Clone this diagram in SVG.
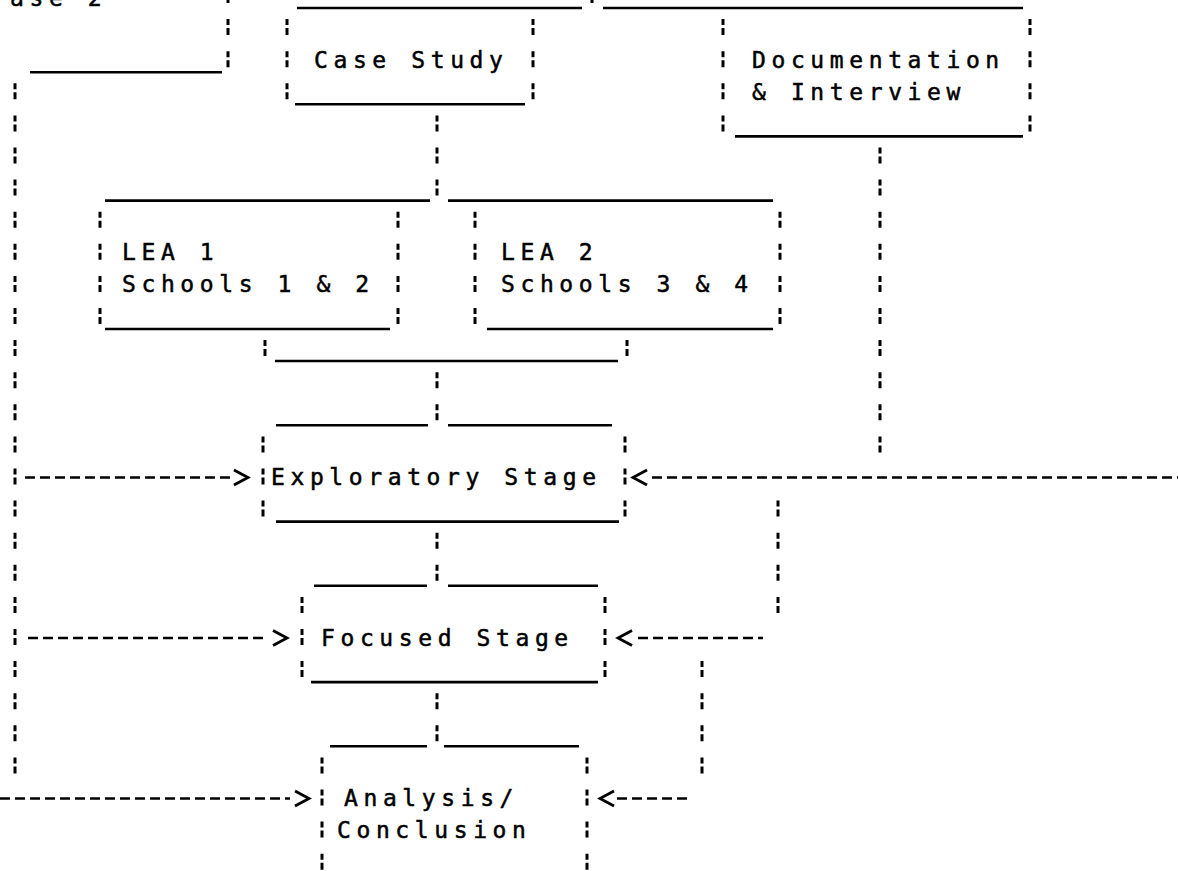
<svg xmlns="http://www.w3.org/2000/svg" xmlns:xlink="http://www.w3.org/1999/xlink" width="1178" height="871" viewBox="0 0 1178 871">
<style>
.bar{stroke:#000;stroke-width:3;stroke-dasharray:6 3 7 16.1;fill:none}
.us{stroke:#000;stroke-width:2.6;fill:none}
.dash{stroke:#000;stroke-width:2.6;stroke-dasharray:10 5;fill:none}
.chev{fill:none;stroke:#000;stroke-width:2.8;stroke-linejoin:miter}
text{font-family:"DejaVu Sans Mono","Liberation Mono",monospace;font-size:23px;letter-spacing:5.6px;fill:#000;stroke:#000;stroke-width:0.5}
</style>
<defs>
<path id="chevR" class="chev" d="M-14,-7.5 L0,0 L-14,7.5"/>
<path id="chevL" class="chev" d="M14,-7.5 L0,0 L14,7.5"/>
</defs>
<rect width="1178" height="871" fill="#fff"/>

<g id="phase2">
<text x="10" y="6">ase 2</text>
<line class="bar" x1="228" y1="-13" x2="228" y2="67.2"/>
<line class="us" x1="30" y1="72.2" x2="222" y2="72.2"/>
</g>

<g id="case-study">
<line class="bar" x1="287" y1="19.1" x2="287" y2="99.3"/>
<line class="bar" x1="533" y1="19.1" x2="533" y2="99.3"/>
<line class="us" x1="295" y1="104.3" x2="525" y2="104.3"/>
<text x="314" y="67.7">Case Study</text>
</g>

<g id="documentation">
<line class="bar" x1="723" y1="19.1" x2="723" y2="131.4"/>
<line class="bar" x1="1030" y1="19.1" x2="1030" y2="131.4"/>
<line class="us" x1="735" y1="136.4" x2="1023" y2="136.4"/>
<text x="752" y="67.7">Documentation</text>
<text x="752" y="99.8">&amp; Interview</text>
</g>

<g id="lea1">
<line class="bar" x1="100" y1="211.7" x2="100" y2="324"/>
<line class="bar" x1="398" y1="211.7" x2="398" y2="324"/>
<line class="us" x1="105" y1="329" x2="390" y2="329"/>
<text x="122" y="260.3">LEA 1</text>
<text x="122" y="292.4">Schools 1 &amp; 2</text>
</g>

<g id="lea2">
<line class="bar" x1="475" y1="211.7" x2="475" y2="324"/>
<line class="bar" x1="780" y1="211.7" x2="780" y2="324"/>
<line class="us" x1="487" y1="329" x2="773" y2="329"/>
<text x="501" y="260.3">LEA 2</text>
<text x="501" y="292.4">Schools 3 &amp; 4</text>
</g>

<g id="exploratory">
<line class="bar" x1="263" y1="436.4" x2="263" y2="516.6"/>
<line class="bar" x1="625" y1="436.4" x2="625" y2="516.6"/>
<line class="us" x1="276" y1="521.6" x2="619" y2="521.6"/>
<text x="271" y="485">Exploratory Stage</text>
</g>

<g id="focused">
<line class="bar" x1="302" y1="596.9" x2="302" y2="677.1"/>
<line class="bar" x1="605" y1="596.9" x2="605" y2="677.1"/>
<line class="us" x1="311" y1="682.1" x2="598" y2="682.1"/>
<text x="321" y="645.5">Focused Stage</text>
</g>

<g id="analysis">
<line class="bar" x1="322" y1="757.4" x2="322" y2="869.7"/>
<line class="bar" x1="587" y1="757.4" x2="587" y2="869.7"/>
<text x="344" y="806">Analysis/</text>
<text x="337" y="838">Conclusion</text>
</g>

<g id="connectors">
<line class="bar" x1="592" y1="-13" x2="592" y2="3"/>
<line class="us" x1="297" y1="8" x2="582" y2="8"/>
<line class="us" x1="603" y1="8" x2="1023" y2="8"/>
<line class="bar" x1="437" y1="115.4" x2="437" y2="195.6"/>
<line class="us" x1="105" y1="200.6" x2="430" y2="200.6"/>
<line class="us" x1="448" y1="200.6" x2="773" y2="200.6"/>
<line class="bar" x1="265" y1="340.1" x2="265" y2="356.1"/>
<line class="bar" x1="627" y1="340.1" x2="627" y2="356.1"/>
<line class="us" x1="275" y1="361" x2="618" y2="361"/>
<line class="bar" x1="437" y1="372.2" x2="437" y2="420.3"/>
<line class="us" x1="276" y1="425.3" x2="428" y2="425.3"/>
<line class="us" x1="448" y1="425.3" x2="612" y2="425.3"/>
<line class="bar" x1="437" y1="532.7" x2="437" y2="580.8"/>
<line class="us" x1="314" y1="585.8" x2="427" y2="585.8"/>
<line class="us" x1="448" y1="585.8" x2="598" y2="585.8"/>
<line class="bar" x1="437" y1="693.2" x2="437" y2="741.3"/>
<line class="us" x1="330" y1="746.3" x2="427" y2="746.3"/>
<line class="us" x1="444" y1="746.3" x2="579" y2="746.3"/>
<line class="bar" x1="15" y1="83.3" x2="15" y2="773.4"/>
<line class="dash" x1="25" y1="477.5" x2="230" y2="477.5"/>
<use xlink:href="#chevR" x="248" y="477.5"/>
<line class="dash" x1="28" y1="638" x2="268" y2="638"/>
<use xlink:href="#chevR" x="287" y="638"/>
<line class="dash" x1="0" y1="798.5" x2="290" y2="798.5"/>
<use xlink:href="#chevR" x="309" y="798.5"/>
<line class="bar" x1="880" y1="147.5" x2="880" y2="452.4"/>
<use xlink:href="#chevL" x="633" y="477.5"/>
<line class="dash" x1="652" y1="477.5" x2="1178" y2="477.5"/>
<line class="bar" x1="778" y1="500.6" x2="778" y2="612.9"/>
<use xlink:href="#chevL" x="618" y="638"/>
<line class="dash" x1="638" y1="638" x2="763" y2="638"/>
<line class="bar" x1="702" y1="661.1" x2="702" y2="773.4"/>
<use xlink:href="#chevL" x="600" y="798.5"/>
<line class="dash" x1="617" y1="798.5" x2="688" y2="798.5"/>
</g>
</svg>
